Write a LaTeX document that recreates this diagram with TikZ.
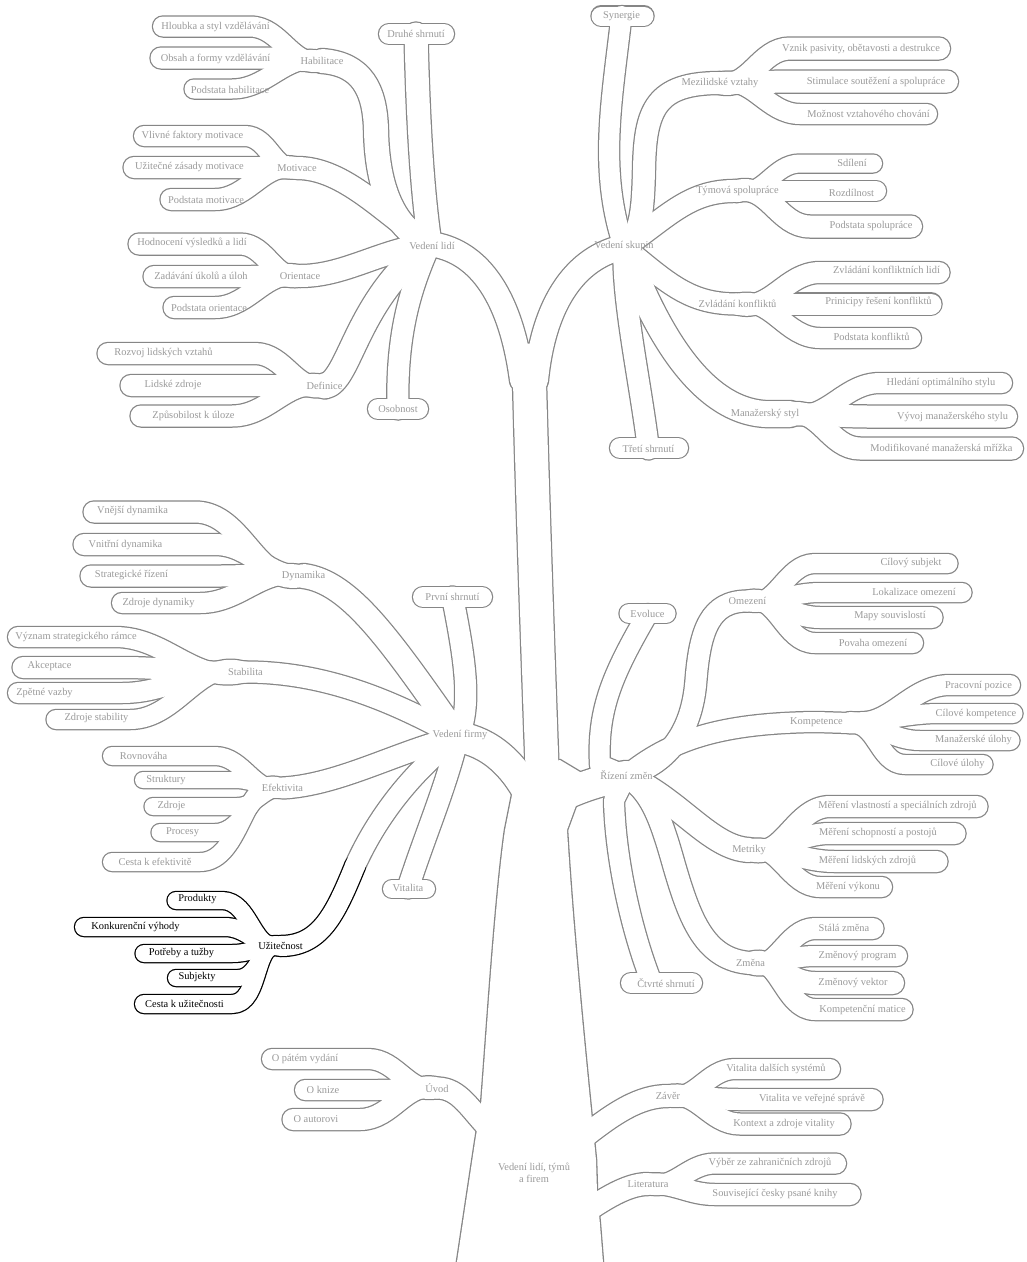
\documentclass[tikz,border=0pt]{standalone}
\usepackage{fontspec}
\setmainfont{Liberation Serif}
\definecolor{mmline}{HTML}{868686}
\definecolor{mmtext}{HTML}{9A9A9A}
\pgfdeclarelayer{bg}
\pgfdeclarelayer{mid}
\pgfsetlayers{bg,mid,main}
\tikzset{
    % label style
    topic/.style = {text=mmtext, inner sep=0pt, font=\fontsize{10.4}{12.5}\selectfont},
    % the highlighted branch
    picked/.style = {topic, text=black},
    % rim and inside of a branch
    rim/.style = {line width=#1, line cap=round, line join=round}
}
% branch as a tube: rim on the lowest layer, white inside above it
\newcommand\mmtube[3][mmline]{%
    \begin{pgfonlayer}{bg}\draw[#1, rim=#2pt+2.5pt] #3;\end{pgfonlayer}%
    \begin{pgfonlayer}{mid}\draw[white, rim=#2pt] #3;\end{pgfonlayer}}

\begin{document}
\begin{tikzpicture}[x=1pt, y=-1pt]
    \useasboundingbox (0,0) rectangle (1027,1262);
    \begin{pgfonlayer}{bg}\fill[white] (0,0) rectangle (1027,1262);\end{pgfonlayer}
    % hub points
    \coordinate (h1) at (430,244);
    \coordinate (h2) at (624,247);
    \coordinate (h3) at (458,737);
    \coordinate (h4) at (626,776);
    % place labels: Vedeni lidi
    \node[topic] (vedeniLidi) at (432,246) {Vedení lidí};
    \node[topic] (druhe) at (416,34) {Druhé shrnutí};
    \node[topic] (habilitace) at (322,61) {Habilitace};
    \node[topic] (hloubka) at (215.5,27) {Hloubka a styl vzdělávání};
    \node[topic] (obsah) at (215.5,59) {Obsah a formy vzdělávání};
    \node[topic] (podstataHab) at (230,90) {Podstata habilitace};
    \node[topic] (motivace) at (297,168) {Motivace};
    \node[topic] (vlivne) at (192.5,136) {Vlivné faktory motivace};
    \node[topic] (uzitecne) at (189.5,167) {Užitečné zásady motivace};
    \node[topic] (podstataMot) at (206,200) {Podstata motivace};
    \node[topic] (orientace) at (300,276) {Orientace};
    \node[topic] (hodnoceni) at (192,243) {Hodnocení výsledků a lidí};
    \node[topic] (zadavani) at (201,276) {Zadávání úkolů a úloh};
    \node[topic] (podstataOri) at (209,308) {Podstata orientace};
    \node[topic] (definice) at (324.5,386) {Definice};
    \node[topic] (rozvoj) at (163.5,353) {Rozvoj lidských vztahů};
    \node[topic] (lidske) at (173,385) {Lidské zdroje};
    \node[topic] (zpusobilost) at (193.5,416) {Způsobilost k úloze};
    \node[topic] (osobnost) at (398,409) {Osobnost};
    % place labels: Vedeni skupin
    \node[topic] (vedeniSkupin) at (624,246) {Vedení skupin};
    \node[topic] (synergie) at (621.5,16) {Synergie};
    \node[topic] (mezilidske) at (720,83) {Mezilidské vztahy};
    \node[topic] (vznik) at (861,49) {Vznik pasivity, obětavosti a destrukce};
    \node[topic] (stimulace) at (876,82) {Stimulace soutěžení a spolupráce};
    \node[topic] (moznost) at (868.5,114) {Možnost vztahového chování};
    \node[topic] (tymova) at (737.5,191) {Týmová spolupráce};
    \node[topic] (sdileni) at (852,163) {Sdílení};
    \node[topic] (rozdilnost) at (851.5,193) {Rozdílnost};
    \node[topic] (podstataSpol) at (871,226) {Podstata spolupráce};
    \node[topic] (zvladani) at (737.5,304) {Zvládání konfliktů};
    \node[topic] (zvladaniLidi) at (886.5,270) {Zvládání konfliktních lidí};
    \node[topic] (principy) at (878.5,302) {Prinicipy řešení konfliktů};
    \node[topic] (podstataKonf) at (871.5,337) {Podstata konfliktů};
    \node[topic] (manazersky) at (765,414) {Manažerský styl};
    \node[topic] (hledani) at (941,383) {Hledání optimálního stylu};
    \node[topic] (vyvoj) at (952.5,417) {Vývoj manažerského stylu};
    \node[topic] (modifikovane) at (941.5,448) {Modifikované manažerská mřížka};
    \node[topic] (treti) at (648.5,449) {Třetí shrnutí};
    % place labels: Vedeni firmy
    \node[topic] (vedeniFirmy) at (460,735) {Vedení firmy};
    \node[topic] (prvni) at (452.5,597) {První shrnutí};
    \node[topic] (dynamika) at (303.5,576) {Dynamika};
    \node[topic] (vnejsi) at (132.5,511) {Vnější dynamika};
    \node[topic] (vnitrni) at (125.5,545) {Vnitřní dynamika};
    \node[topic] (strategicke) at (131.5,575) {Strategické řízení};
    \node[topic] (zdrojeDyn) at (158.5,603) {Zdroje dynamiky};
    \node[topic] (stabilita) at (245.5,672) {Stabilita};
    \node[topic] (vyznam) at (76,637) {Význam strategického rámce};
    \node[topic] (akceptace) at (49.5,666) {Akceptace};
    \node[topic] (zpetne) at (44.5,693) {Zpětné vazby};
    \node[topic] (zdrojeStab) at (96.5,718) {Zdroje stability};
    \node[topic] (efektivita) at (282.5,788) {Efektivita};
    \node[topic] (rovnovaha) at (143.5,756) {Rovnováha};
    \node[topic] (struktury) at (166,780) {Struktury};
    \node[topic] (zdroje) at (171.5,806) {Zdroje};
    \node[topic] (procesy) at (182.5,832) {Procesy};
    \node[topic] (cestaEf) at (155,862) {Cesta k efektivitě};
    \node[picked] (uzitecnost) at (280.5,946) {Užitečnost};
    \node[picked] (produkty) at (197.5,899) {Produkty};
    \node[picked] (konkurencni) at (135.5,927) {Konkurenční výhody};
    \node[picked] (potreby) at (181.5,953) {Potřeby a tužby};
    \node[picked] (subjekty) at (197,977) {Subjekty};
    \node[picked] (cestaUz) at (184.5,1004) {Cesta k užitečnosti};
    \node[topic] (vitalita) at (408,888) {Vitalita};
    % place labels: Rizeni zmen
    \node[topic] (rizeniZmen) at (626.5,775) {Řízení změn};
    \node[topic] (evoluce) at (647.5,614) {Evoluce};
    \node[topic] (omezeni) at (747.5,601) {Omezení};
    \node[topic] (cilovySubj) at (911,563) {Cílový subjekt};
    \node[topic] (lokalizace) at (914,592) {Lokalizace omezení};
    \node[topic] (mapy) at (890,616) {Mapy souvislostí};
    \node[topic] (povaha) at (873,643) {Povaha omezení};
    \node[topic] (kompetence) at (816.5,722) {Kompetence};
    \node[topic] (pracovni) at (978.5,686) {Pracovní pozice};
    \node[topic] (ciloveKomp) at (976,714) {Cílové kompetence};
    \node[topic] (manUlohy) at (973.5,740) {Manažerské úlohy};
    \node[topic] (ciloveUlohy) at (957.5,764) {Cílové úlohy};
    \node[topic] (metriky) at (749,850) {Metriky};
    \node[topic] (mereniVl) at (897.5,806) {Měření vlastností a speciálních zdrojů};
    \node[topic] (mereniSch) at (878,833) {Měření schopností a postojů};
    \node[topic] (mereniLid) at (867.5,861) {Měření lidských zdrojů};
    \node[topic] (mereniVyk) at (848,887) {Měření výkonu};
    \node[topic] (zmena) at (750.5,963) {Změna};
    \node[topic] (stala) at (844,928) {Stálá změna};
    \node[topic] (program) at (857.5,956) {Změnový program};
    \node[topic] (vektor) at (853,983) {Změnový vektor};
    \node[topic] (matice) at (862.5,1010) {Kompetenční matice};
    \node[topic] (ctvrte) at (666,983) {Čtvrté shrnutí};
    % place labels: root
    \node[topic] (uvod) at (437,1088) {Úvod};
    \node[topic] (patem) at (305,1059) {O pátém vydání};
    \node[topic] (knize) at (323,1090) {O knize};
    \node[topic] (autorovi) at (316,1119) {O autorovi};
    \node[topic] (zaver) at (668,1096) {Závěr};
    \node[topic] (vitalitaDal) at (776,1069) {Vitalita dalších systémů};
    \node[topic] (vitalitaVer) at (812,1099) {Vitalita ve veřejné správě};
    \node[topic] (kontext) at (784,1124) {Kontext a zdroje vitality};
    \node[topic] (literatura) at (648,1184) {Literatura};
    \node[topic] (vyber) at (770,1163) {Výběr ze zahraničních zdrojů};
    \node[topic] (souvisejici) at (775,1194) {Související česky psané knihy};
    \node[topic, align=center] (root) at (534,1173) {Vedení lidí, týmů\\a firem};

    % draw branches: Vedeni lidi
    \mmtube{20}{(389,34) -- (444,34)}
    \mmtube{23}{(druhe.center) .. controls (418,120) and (422,190) .. (h1)}
    \mmtube{20}{(163,26.5) -- (250,26.5) to[out=0,in=195] (habilitace.center)}
    \mmtube{21}{(161,58) -- (262,58) to[out=0,in=180] (habilitace.center)}
    \mmtube{19}{(194,89) -- (232,89) to[out=0,in=165] (habilitace.center)}
    \mmtube{24}{(habilitace.center) .. controls (362,64) and (375,90) .. (376,130) .. controls (377,190) and (395,230) .. (h1)}
    \mmtube{20}{(144,136) -- (245,136) to[out=0,in=195] (motivace.center)}
    \mmtube{21}{(134,167.5) -- (250,167.5) to[out=0,in=180] (motivace.center)}
    \mmtube{21}{(171,199.5) -- (215,199.5) to[out=0,in=165] (motivace.center)}
    \mmtube{22}{(motivace.center) .. controls (345,168) and (385,215) .. (h1)}
    \mmtube{21}{(139,244) -- (240,244) to[out=0,in=195] (orientace.center)}
    \mmtube{21}{(154,276.5) -- (247,276.5) to[out=0,in=180] (orientace.center)}
    \mmtube{21}{(174,307.5) -- (215,307.5) to[out=0,in=165] (orientace.center)}
    \mmtube{22}{(orientace.center) .. controls (345,276) and (380,250) .. (h1)}
    \mmtube{21}{(108,353.5) -- (255,353.5) to[out=0,in=195] (definice.center)}
    \mmtube{21}{(131,385.5) -- (258,385.5) to[out=0,in=180] (definice.center)}
    \mmtube{21}{(141,416) -- (232,416) to[out=0,in=165] (definice.center)}
    \mmtube{25}{(definice.center) .. controls (350,382) and (355,300) .. (h1)}
    \mmtube{20}{(378,409) -- (418,409)}
    \mmtube{21}{(osobnost.center) .. controls (396,330) and (412,285) .. (h1)}
    \mmtube{24}{(h1) .. controls (475,250) and (510,290) .. (522,380)}
    % draw branches: Vedeni skupin
    \mmtube{19}{(601,16) -- (644,16)}
    \mmtube{20}{(synergie.center) .. controls (612,100) and (598,170) .. (h2)}
    \mmtube{22}{(939,48.5) -- (790,48.5) to[out=180,in=-15] (mezilidske.center)}
    \mmtube{22}{(947,81.5) -- (795,81.5) to[out=180,in=0] (mezilidske.center)}
    \mmtube{20}{(927,114) -- (800,114) to[out=180,in=15] (mezilidske.center)}
    \mmtube{22}{(mezilidske.center) .. controls (655,83) and (645,110) .. (644,170) .. controls (643,215) and (640,235) .. (h2)}
    \mmtube{18}{(873,163.5) -- (800,163.5) to[out=180,in=-15] (tymova.center)}
    \mmtube{20}{(876,191) -- (805,191) to[out=180,in=0] (tymova.center)}
    \mmtube{22}{(911,226.5) -- (810,226.5) to[out=180,in=15] (tymova.center)}
    \mmtube{22}{(tymova.center) .. controls (690,190) and (670,215) .. (h2)}
    \mmtube{21}{(939,272.5) -- (820,272.5) to[out=180,in=-15] (zvladani.center)}
    \mmtube{21}{(931,304) -- (812,304) to[out=180,in=0] (zvladani.center)}
    \mmtube{20}{(911,338) -- (820,338) to[out=180,in=15] (zvladani.center)}
    \mmtube{21}{(zvladani.center) .. controls (690,304) and (670,285) .. (h2)}
    \mmtube{20}{(1002,383) -- (880,383) to[out=180,in=-15] (790,414)}
    \mmtube{22}{(1006,416.5) -- (870,416.5) to[out=180,in=0] (790,414)}
    \mmtube{22}{(1012,448.5) -- (860,448.5) to[out=180,in=15] (790,414)}
    \mmtube{26}{(790,414) -- (manazersky.center) .. controls (700,410) and (655,330) .. (h2)}
    \mmtube{20}{(620,448) -- (678,448)}
    \mmtube{21}{(treti.center) .. controls (640,380) and (622,300) .. (h2)}
    \mmtube{24}{(h2) .. controls (585,255) and (545,290) .. (536,380)}
    % draw the upper trunk
    \mmtube{33}{(529,360) .. controls (531,450) and (536,600) .. (543,795)}
    % draw branches: Vedeni firmy
    \mmtube{20}{(423,597) -- (482,597)}
    \mmtube{21}{(prvni.center) .. controls (465,660) and (472,705) .. (h3)}
    \mmtube{21}{(94,512) -- (195,512) to[out=0,in=195] (dynamika.center)}
    \mmtube{21}{(84,544.5) -- (215,544.5) to[out=0,in=185] (dynamika.center)}
    \mmtube{21}{(91,576) -- (218,576) to[out=0,in=175] (dynamika.center)}
    \mmtube{20}{(122,603) -- (200,603) to[out=0,in=165] (dynamika.center)}
    \mmtube{24}{(dynamika.center) .. controls (350,582) and (390,640) .. (h3)}
    \mmtube{20}{(18,637) -- (115,637) to[out=0,in=195] (stabilita.center)}
    \mmtube{21}{(23,667.5) -- (122,667.5) to[out=0,in=182] (stabilita.center)}
    \mmtube{20}{(18,693) -- (122,693) to[out=0,in=172] (stabilita.center)}
    \mmtube{19}{(56,719.5) -- (130,719.5) to[out=0,in=160] (stabilita.center)}
    \mmtube{21}{(stabilita.center) .. controls (330,672) and (400,705) .. (h3)}
    \mmtube{18}{(112,756) -- (215,756) to[out=0,in=195] (efektivita.center)}
    \mmtube{16}{(143,780) -- (235,780) to[out=0,in=185] (efektivita.center)}
    \mmtube{17}{(153,806.5) -- (237,806.5) to[out=0,in=175] (efektivita.center)}
    \mmtube{17}{(160,832.5) -- (215,832.5) to[out=0,in=165] (efektivita.center)}
    \mmtube{18}{(112,862) -- (200,862) to[out=0,in=155] (efektivita.center)}
    \mmtube{21}{(efektivita.center) .. controls (340,785) and (400,750) .. (h3)}
    \mmtube{18}{(392,889) -- (426,889)}
    \mmtube{21}{(vitalita.center) .. controls (425,835) and (445,790) .. (h3)}
    \mmtube{20}{(355,866) .. controls (380,810) and (420,765) .. (h3)}
    \mmtube{30}{(h3) .. controls (490,742) and (515,765) .. (532,800)}
    % draw branches: Rizeni zmen
    \mmtube{19}{(629,613.5) -- (666,613.5)}
    \mmtube{20}{(evoluce.center) .. controls (612,675) and (597,710) .. (600,765) -- (h4)}
    \mmtube{19}{(948,563.5) -- (815,563.5) to[out=180,in=-20] (omezeni.center)}
    \mmtube{19}{(962,592.5) -- (820,592.5) to[out=180,in=-5] (omezeni.center)}
    \mmtube{21}{(932,617.5) -- (820,617.5) to[out=180,in=5] (omezeni.center)}
    \mmtube{20}{(913,643) -- (815,643) to[out=180,in=20] (omezeni.center)}
    \mmtube{21}{(omezeni.center) .. controls (710,601) and (700,630) .. (696,680) .. controls (692,735) and (665,765) .. (h4)}
    \mmtube{20}{(1010,685) -- (950,685) to[out=180,in=-10] (850,722)}
    \mmtube{19}{(1013,713.5) -- (940,713.5) to[out=180,in=0] (850,722)}
    \mmtube{19}{(1010,740.5) -- (920,740.5) to[out=180,in=0] (850,723)}
    \mmtube{19}{(983,764.5) -- (905,764.5) to[out=180,in=10] (850,724)}
    \mmtube{20}{(850,723) -- (kompetence.center) .. controls (720,723) and (670,740) .. (h4)}
    \mmtube{21}{(977,806.5) -- (830,806.5) to[out=180,in=-20] (metriky.center)}
    \mmtube{21}{(955,833.5) -- (830,833.5) to[out=180,in=-5] (metriky.center)}
    \mmtube{21}{(937,861.5) -- (835,861.5) to[out=180,in=5] (metriky.center)}
    \mmtube{20}{(882,887) -- (820,887) to[out=180,in=20] (metriky.center)}
    \mmtube{24}{(metriky.center) .. controls (710,848) and (680,800) .. (h4)}
    \mmtube{21}{(873,928.5) -- (815,928.5) to[out=180,in=-25] (zmena.center)}
    \mmtube{20}{(897,956) -- (815,956) to[out=180,in=-5] (zmena.center)}
    \mmtube{22}{(893,983) -- (815,983) to[out=180,in=5] (zmena.center)}
    \mmtube{21}{(902,1009.5) -- (815,1009.5) to[out=180,in=25] (zmena.center)}
    \mmtube{22}{(zmena.center) .. controls (705,960) and (690,920) .. (674,865) .. controls (660,815) and (650,790) .. (h4)}
    \mmtube{20}{(631,983) -- (692,983)}
    \mmtube{20}{(650,978) .. controls (628,920) and (615,850) .. (614,800) -- (h4)}
    \mmtube{30}{(h4) .. controls (600,780) and (570,790) .. (545,805)}
    % draw the lower trunk
    \begin{pgfonlayer}{bg}
        \draw[mmline, line width=2.6pt, line join=round] (455,1275) -- (475,1142) -- (481,1105) .. controls (487,1030) and (495,900) .. (505,830) -- (512,795) -- (520,770) -- (560,760) -- (585,775) -- (578,800) -- (567,830) .. controls (573,930) and (585,1050) .. (592,1120) -- (596,1160) -- (597,1192) -- (600,1225) -- (604,1275) -- cycle;
    \end{pgfonlayer}
    \begin{pgfonlayer}{mid}
        \fill[white] (455,1275) -- (475,1142) -- (481,1105) .. controls (487,1030) and (495,900) .. (505,830) -- (512,795) -- (520,770) -- (560,760) -- (585,775) -- (578,800) -- (567,830) .. controls (573,930) and (585,1050) .. (592,1120) -- (596,1160) -- (597,1192) -- (600,1225) -- (604,1275) -- cycle;
    \end{pgfonlayer}
    % draw branches on the root
    \mmtube{20}{(272,1059) -- (368,1059) to[out=0,in=195] (uvod.center)}
    \mmtube{20}{(305,1090) -- (375,1090) to[out=0,in=180] (uvod.center)}
    \mmtube{21}{(293,1119.5) -- (360,1119.5) to[out=0,in=165] (uvod.center)}
    \mmtube{21}{(uvod.center) .. controls (460,1088) and (470,1110) .. (492,1132)}
    \mmtube{20}{(830,1069) -- (735,1069) to[out=180,in=-15] (zaver.center)}
    \mmtube{21}{(872,1099.5) -- (740,1099.5) to[out=180,in=0] (zaver.center)}
    \mmtube{21}{(840,1124) -- (740,1124) to[out=180,in=15] (zaver.center)}
    \mmtube{22}{(zaver.center) .. controls (640,1096) and (615,1112) .. (580,1140)}
    \mmtube{20}{(836,1163.5) -- (715,1163.5) to[out=180,in=-15] (literatura.center)}
    \mmtube{21}{(850,1194.5) -- (715,1194.5) to[out=180,in=5] (literatura.center)}
    \mmtube{22}{(literatura.center) .. controls (630,1184) and (610,1195) .. (585,1212)}
    % draw the highlighted branch
    \mmtube[black]{17}{(176,900.5) -- (222,900.5) to[out=0,in=195] (uzitecnost.center)}
    \mmtube[black]{18}{(84,927) -- (225,927) to[out=0,in=185] (uzitecnost.center)}
    \mmtube[black]{17}{(144,953.5) -- (232,953.5) to[out=0,in=178] (uzitecnost.center)}
    \mmtube[black]{16}{(176,978) -- (238,978) to[out=0,in=170] (uzitecnost.center)}
    \mmtube[black]{18}{(144,1004) -- (232,1004) to[out=0,in=160] (uzitecnost.center)}
    \mmtube[black]{20}{(uzitecnost.center) .. controls (320,946) and (335,915) .. (355,866)}
\end{tikzpicture}
\end{document}
